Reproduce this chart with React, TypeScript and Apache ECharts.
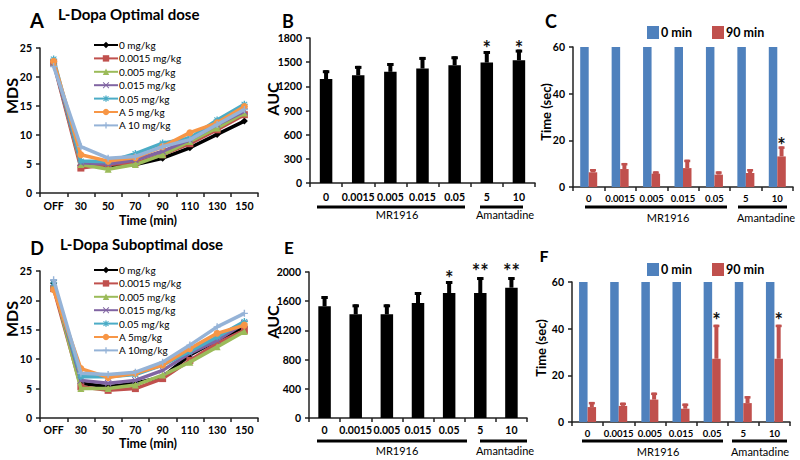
import React, { useEffect, useRef } from "react";
import * as echarts from "echarts";

const FONT = "Lato, 'Open Sans', 'DejaVu Sans', sans-serif";

// ---------- categories ----------
const timeCats = ["OFF", "30", "50", "70", "90", "110", "130", "150"];
const doseCats = ["0", "0.0015", "0.005", "0.015", "0.05", "5", "10"];

// ---------- line panels (MDS) ----------
const lineNamesA = ["0 mg/kg", "0.0015 mg/kg", "0.005 mg/kg", "0.015 mg/kg", "0.05 mg/kg", "A 5 mg/kg", "A 10 mg/kg"];
const lineNamesD = ["0 mg/kg", "0.0015 mg/kg", "0.005 mg/kg", "0.015 mg/kg", "0.05 mg/kg", "A 5mg/kg", "A 10mg/kg"];
const lineColors = ["#000000", "#c0504d", "#9bbb59", "#8064a2", "#4bacc6", "#f79646", "#95b3d7"];

const mdsOpt0 = [22.7, 4.8, 4.5, 4.9, 6.0, 7.8, 10.1, 12.4];
const mdsOpt0015 = [22.4, 4.3, 4.9, 5.2, 6.6, 8.5, 10.9, 13.5];
const mdsOpt005 = [22.6, 4.9, 4.1, 4.9, 6.6, 8.9, 11.2, 13.8];
const mdsOpt015 = [22.5, 5.2, 5.0, 5.7, 7.2, 9.2, 11.8, 14.1];
const mdsOpt05 = [23.1, 5.5, 5.4, 6.8, 8.6, 9.5, 12.6, 15.3];
const mdsOptA5 = [22.7, 6.6, 5.5, 6.1, 8.0, 10.4, 12.1, 14.9];
const mdsOptA10 = [21.8, 8.0, 6.0, 6.3, 8.0, 9.2, 11.8, 14.4];

const mdsSub0 = [22.9, 5.9, 5.3, 5.9, 7.0, 10.7, 13.2, 15.5];
const mdsSub0015 = [22.0, 5.3, 4.7, 5.0, 6.7, 9.8, 12.7, 14.9];
const mdsSub005 = [22.8, 5.0, 5.0, 5.6, 7.3, 9.5, 12.1, 14.7];
const mdsSub015 = [22.9, 6.4, 5.9, 6.4, 8.1, 11.0, 13.2, 16.1];
const mdsSub05 = [23.0, 7.0, 7.0, 7.4, 9.0, 11.3, 13.8, 16.4];
const mdsSubA5 = [21.8, 8.4, 6.9, 7.6, 9.0, 11.8, 14.4, 15.8];
const mdsSubA10 = [23.5, 7.6, 7.4, 7.8, 9.5, 12.4, 15.5, 17.8];

const mdsOptimal = [mdsOpt0, mdsOpt0015, mdsOpt005, mdsOpt015, mdsOpt05, mdsOptA5, mdsOptA10];
const mdsSuboptimal = [mdsSub0, mdsSub0015, mdsSub005, mdsSub015, mdsSub05, mdsSubA5, mdsSubA10];

// ---------- AUC panels ----------
const aucOpt = [1290, 1338, 1380, 1421, 1462, 1495, 1524];
const aucOptErr = [1400, 1454, 1490, 1565, 1573, 1639, 1656];
const aucOptSig = ["", "", "", "", "", "*", "*"];
const aucOptSigPos = [0, 0, 0, 0, 0, 1740, 1740];

const aucSub = [1530, 1420, 1420, 1575, 1712, 1712, 1785];
const aucSubErr = [1671, 1557, 1557, 1726, 1877, 1931, 1931];
const aucSubSig = ["", "", "", "", "*", "**", "**"];
const aucSubSigPos = [0, 0, 0, 0, 1980, 2085, 2085];

// ---------- time panels ----------
const time0Opt = [60, 60, 60, 60, 60, 60, 60];
const time90Opt = [6.3, 7.7, 5.7, 8.1, 5.3, 6.0, 13.1];
const time90OptErr = [7.7, 10.3, 6.7, 11.7, 6.7, 7.7, 17.4];
const timeOptSig = ["", "", "", "", "", "", "*"];
const timeOptSigPos = [0, 0, 0, 0, 0, 0, 20.3];

const time0Sub = [60, 60, 60, 60, 60, 60, 60];
const time90Sub = [6.4, 6.9, 9.6, 5.7, 27.1, 8.1, 27.1];
const time90SubErr = [8.6, 8.3, 12.6, 7.9, 41.7, 11.1, 41.7];
const timeSubSig = ["", "", "", "", "*", "", "*"];
const timeSubSigPos = [0, 0, 0, 0, 45.7, 0, 45.7];

const symX = "path://M0,1L1,0L5,4L9,0L10,1L6,5L10,9L9,10L5,6L1,10L0,9L4,5Z";
const symPlus = "path://M4,0H6V4H10V6H6V10H4V6H0V4H4Z";
const symStar = "path://M4,0H6V3L8.5,1L9.5,2.2L6.8,4.2H10V5.8H6.8L9.5,7.8L8.5,9L6,7V10H4V7L1.5,9L0.5,7.8L3.2,5.8H0V4.2H3.2L0.5,2.2L1.5,1L4,3Z";
const lineSymbols = ["diamond", "rect", "triangle", symX, symStar, "circle", symPlus];

function errRender(color: string, stemW: number, capW: number, capH: number, dx: number) {
  return (params: any, api: any) => {
    const i = api.value(0);
    const lo = api.coord([i, api.value(1)]);
    const hi = api.coord([i, api.value(2)]);
    const x = lo[0] + dx;
    return {
      type: "group",
      children: [
        { type: "rect", shape: { x: x - stemW / 2, y: hi[1], width: stemW, height: lo[1] - hi[1] }, style: { fill: color } },
        { type: "rect", shape: { x: x - capW / 2, y: hi[1], width: capW, height: capH }, style: { fill: color } },
      ],
    };
  };
}

function sigRender(texts: string[], dx: number) {
  return (params: any, api: any) => {
    const t = texts[params.dataIndex];
    if (!t) return null;
    const p = api.coord([api.value(0), api.value(1)]);
    return {
      type: "text",
      x: p[0] + dx,
      y: p[1] + 5,
      style: {
        text: t,
        font: `bold 20px ${FONT}`,
        fill: "#111",
        align: "center",
        verticalAlign: "middle",
      },
    };
  };
}

const axisLineStyle = { color: "#222", width: 1.5 };

function xAxisDef(gridIndex: number, data: string[], margin: number, fontSize = 10.5) {
  return {
    type: "category",
    gridIndex,
    data,
    axisLine: { show: true, lineStyle: axisLineStyle },
    axisTick: { show: true, length: 4, lineStyle: axisLineStyle },
    axisLabel: { interval: 0, margin, color: "#000", fontFamily: FONT, fontWeight: "bold", fontSize },
    splitLine: { show: false },
  };
}

function yAxisDef(gridIndex: number, max: number, interval: number) {
  return {
    type: "value",
    gridIndex,
    min: 0,
    max,
    interval,
    axisLine: { show: true, lineStyle: axisLineStyle },
    axisTick: { show: true, length: 4, lineStyle: axisLineStyle },
    axisLabel: {
      margin: 8, color: "#000", fontFamily: FONT, fontWeight: "bold", fontSize: 10.5,
      formatter: (v: number) => String(v),
    },
    splitLine: { show: false },
  };
}

function lineSeries(names: string[], values: number[][], axisIndex: number) {
  return values.map((vals, k) => ({
    type: "line",
    name: names[k],
    xAxisIndex: axisIndex,
    yAxisIndex: axisIndex,
    data: vals,
    color: lineColors[k],
    symbol: lineSymbols[k],
    symbolSize: 7,
    showSymbol: true,
    lineStyle: { width: 3.5, color: lineColors[k] },
    itemStyle: { color: lineColors[k] },
    z: 2 + k,
  }));
}

function text(x: number, y: number, t: string, size: number, opts: any = {}) {
  return {
    type: "text",
    x,
    y,
    rotation: opts.rotation || 0,
    style: {
      text: t,
      font: `${opts.weight || "bold"} ${size}px ${FONT}`,
      fill: "#000",
      align: opts.align || "center",
      verticalAlign: "middle",
    },
  };
}

function hline(x1: number, x2: number, y: number) {
  return { type: "rect", shape: { x: x1, y: y - 1.5, width: x2 - x1, height: 3 }, style: { fill: "#000" } };
}

const legendLineStyle = {
  orient: "vertical", itemWidth: 24, itemHeight: 8, itemGap: 3.4, selectedMode: false,
  textStyle: { fontFamily: FONT, fontSize: 10, lineHeight: 10, color: "#000", padding: [0, 0, 0, -4] },
};
const legendBarStyle = {
  itemWidth: 12, itemHeight: 13, itemGap: 20, icon: "rect", selectedMode: false,
  textStyle: { fontFamily: FONT, fontSize: 12.5, fontWeight: "bold", color: "#000", padding: [0, 0, 0, -3] },
};

export default function App() {
  const ref = useRef<HTMLDivElement>(null);
  useEffect(() => {
    if (!ref.current) return;
    const chart = echarts.init(ref.current, null, { renderer: "svg" });
    const idx = (arr: number[]) => arr.map((v, i) => [i, v]);
    const errData = (bar: number[], err: number[]) => bar.map((v, i) => [i, v, err[i]]);

    const option: any = {
      animation: false,
      backgroundColor: "#fff",
      textStyle: { fontFamily: FONT },
      grid: [
        { left: 40, top: 48, width: 218, height: 145, outerBoundsMode: "none" },
        { left: 310, top: 38, width: 225, height: 145, outerBoundsMode: "none" },
        { left: 573, top: 47, width: 220, height: 140, outerBoundsMode: "none" },
        { left: 40, top: 271, width: 218, height: 147, outerBoundsMode: "none" },
        { left: 309, top: 272, width: 218, height: 146, outerBoundsMode: "none" },
        { left: 572, top: 282, width: 218, height: 140, outerBoundsMode: "none" },
      ],
      xAxis: [
        xAxisDef(0, timeCats, 7),
        xAxisDef(1, doseCats, 8),
        xAxisDef(2, doseCats, 6, 9.5),
        xAxisDef(3, timeCats, 6),
        xAxisDef(4, doseCats, 6.5),
        xAxisDef(5, doseCats, 6, 9.5),
      ],
      yAxis: [
        yAxisDef(0, 25, 5),
        yAxisDef(1, 1800, 300),
        yAxisDef(2, 60, 20),
        yAxisDef(3, 25, 5),
        yAxisDef(4, 2000, 400),
        yAxisDef(5, 60, 20),
      ],
      legend: [
        { ...legendLineStyle, data: lineNamesA, left: 88, top: 35 },
        { ...legendLineStyle, data: lineNamesD, left: 88, top: 260 },
        { ...legendBarStyle, data: ["0 min", "90 min"], left: 642, top: 21 },
        { ...legendBarStyle, data: ["0 min", "90 min"], left: 642, top: 258 },
      ],
      series: [
        ...lineSeries(lineNamesA, mdsOptimal, 0),
        ...lineSeries(lineNamesD, mdsSuboptimal, 3),
        // B
        { type: "bar", name: "AUC opt", xAxisIndex: 1, yAxisIndex: 1, data: aucOpt, barWidth: 12.5, itemStyle: { color: "#000" } },
        { type: "custom", xAxisIndex: 1, yAxisIndex: 1, renderItem: errRender("#000", 4, 6.5, 3, 0), data: errData(aucOpt, aucOptErr), encode: { x: 0, y: [1, 2] }, z: 3 },
        { type: "custom", xAxisIndex: 1, yAxisIndex: 1, renderItem: sigRender(aucOptSig, 0), data: idx(aucOptSigPos), encode: { x: 0, y: 1 }, z: 4 },
        // C
        { type: "bar", name: "0 min", xAxisIndex: 2, yAxisIndex: 2, data: time0Opt, barWidth: 8.5, barGap: "0%", itemStyle: { color: "#4f81bd" } },
        { type: "bar", name: "90 min", xAxisIndex: 2, yAxisIndex: 2, data: time90Opt, barWidth: 8.5, barGap: "0%", itemStyle: { color: "#c0504d" } },
        { type: "custom", xAxisIndex: 2, yAxisIndex: 2, renderItem: errRender("#c0504d", 4, 6, 2.5, 4.25), data: errData(time90Opt, time90OptErr), encode: { x: 0, y: [1, 2] }, z: 3 },
        { type: "custom", xAxisIndex: 2, yAxisIndex: 2, renderItem: sigRender(timeOptSig, 4.25), data: idx(timeOptSigPos), encode: { x: 0, y: 1 }, z: 4 },
        // E
        { type: "bar", name: "AUC sub", xAxisIndex: 4, yAxisIndex: 4, data: aucSub, barWidth: 12.5, itemStyle: { color: "#000" } },
        { type: "custom", xAxisIndex: 4, yAxisIndex: 4, renderItem: errRender("#000", 4, 6.5, 3, 0), data: errData(aucSub, aucSubErr), encode: { x: 0, y: [1, 2] }, z: 3 },
        { type: "custom", xAxisIndex: 4, yAxisIndex: 4, renderItem: sigRender(aucSubSig, 0), data: idx(aucSubSigPos), encode: { x: 0, y: 1 }, z: 4 },
        // F
        { type: "bar", name: "0 min", xAxisIndex: 5, yAxisIndex: 5, data: time0Sub, barWidth: 8.5, barGap: "0%", itemStyle: { color: "#4f81bd" } },
        { type: "bar", name: "90 min", xAxisIndex: 5, yAxisIndex: 5, data: time90Sub, barWidth: 8.5, barGap: "0%", itemStyle: { color: "#c0504d" } },
        { type: "custom", xAxisIndex: 5, yAxisIndex: 5, renderItem: errRender("#c0504d", 4, 6, 2.5, 4.25), data: errData(time90Sub, time90SubErr), encode: { x: 0, y: [1, 2] }, z: 3 },
        { type: "custom", xAxisIndex: 5, yAxisIndex: 5, renderItem: sigRender(timeSubSig, 4.25), data: idx(timeSubSigPos), encode: { x: 0, y: 1 }, z: 4 },
      ],
      graphic: [
        // panel letters and titles
        text(37, 20, "A", 20),
        text(58, 14, "L-Dopa Optimal dose", 15, { align: "left" }),
        text(288, 21, "B", 18),
        text(551, 21, "C", 18),
        text(37, 248, "D", 18),
        text(60, 244, "L-Dopa Suboptimal dose", 15, { align: "left" }),
        text(289, 247, "E", 17),
        text(544, 255, "F", 16),
        // axis names
        text(11, 96, "MDS", 16, { rotation: Math.PI / 2 }),
        text(11, 319, "MDS", 16, { rotation: Math.PI / 2 }),
        text(148, 220, "Time (min)", 12.5),
        text(148, 443, "Time (min)", 12.5),
        text(272, 99, "AUC", 16, { rotation: Math.PI / 2 }),
        text(272, 322, "AUC", 16, { rotation: Math.PI / 2 }),
        text(546, 112, "Time (sec)", 13, { rotation: Math.PI / 2 }),
        text(541, 348, "Time (sec)", 13, { rotation: Math.PI / 2 }),
        // group brackets
        hline(317, 465, 207),
        hline(480, 523, 207),
        text(397, 214, "MR1916", 11, { weight: "normal" }),
        text(505, 214, "Amantadine", 11, { weight: "normal" }),
        hline(585, 727, 207),
        hline(738, 787, 207),
        text(668, 217, "MR1916", 11, { weight: "normal" }),
        text(766, 217, "Amantadine", 11, { weight: "normal" }),
        hline(317, 467, 441),
        hline(480, 527, 441),
        text(397, 450, "MR1916", 11, { weight: "normal" }),
        text(505, 450, "Amantadine", 11, { weight: "normal" }),
        hline(582, 723, 441),
        hline(732, 787, 441),
        text(658, 451, "MR1916", 11, { weight: "normal" }),
        text(760, 451, "Amantadine", 11, { weight: "normal" }),
      ],
    };
    chart.setOption(option);
    return () => chart.dispose();
  }, []);
  return <div ref={ref} style={{ width: 800, height: 460, position: "absolute", left: 0, top: 0 }} />;
}
